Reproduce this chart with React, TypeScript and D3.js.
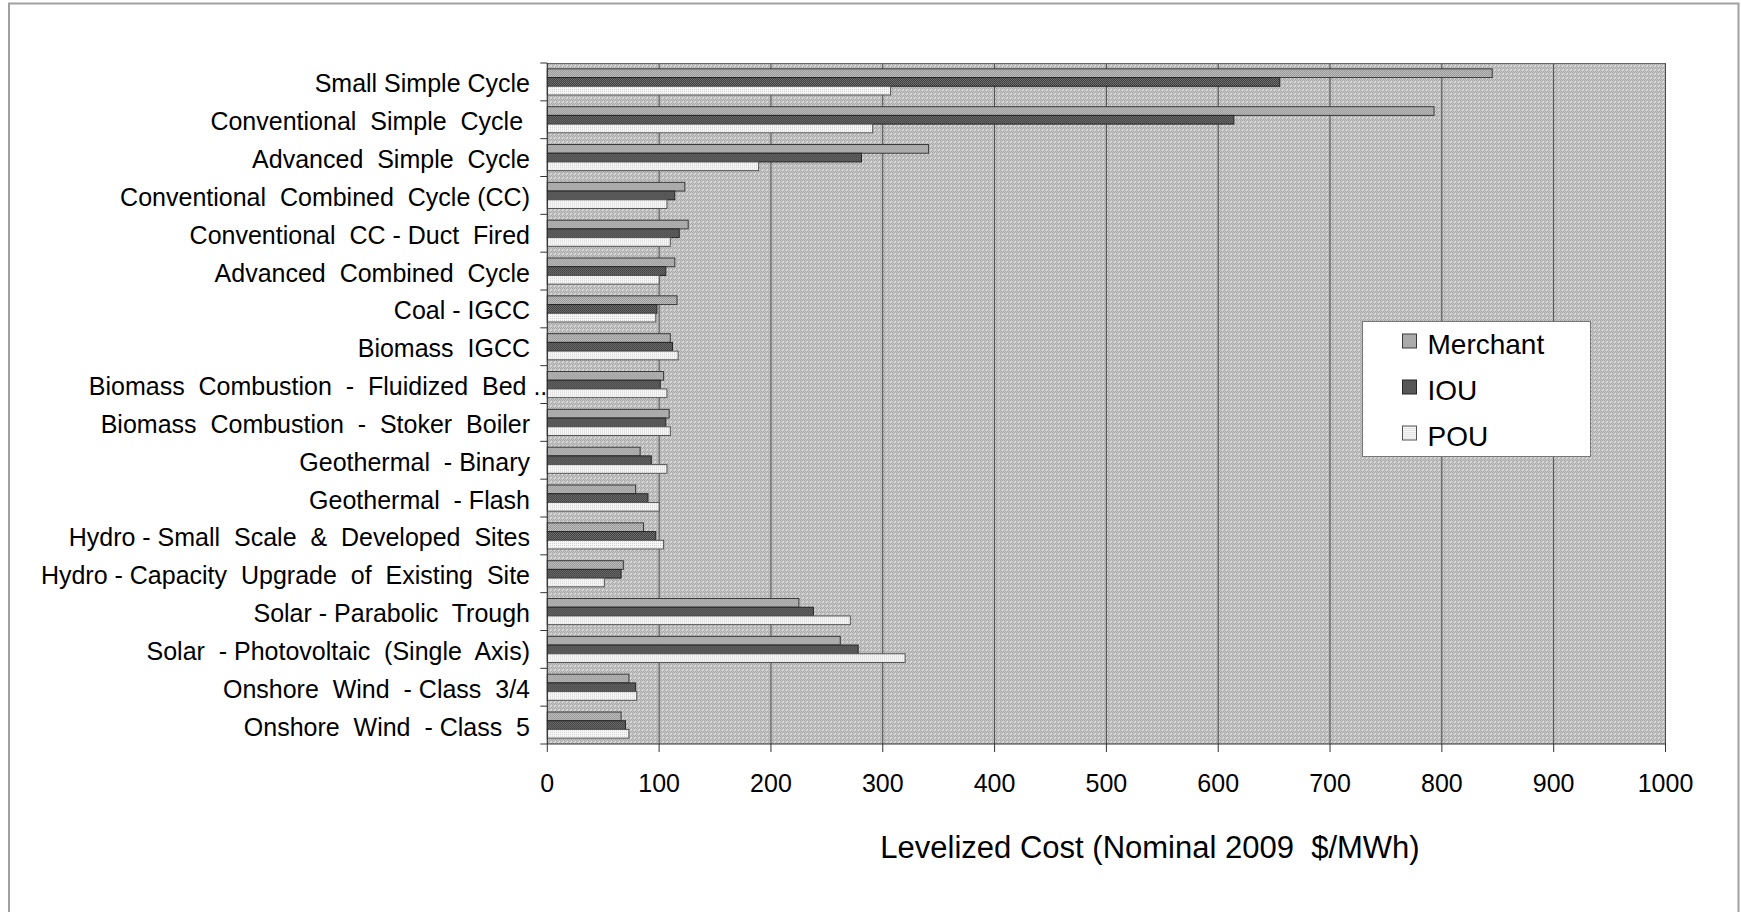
import React from "react";
import * as d3 from "d3";

const categories = [
  "Small Simple Cycle",
  "Conventional  Simple  Cycle ",
  "Advanced  Simple  Cycle",
  "Conventional  Combined  Cycle (CC)",
  "Conventional  CC - Duct  Fired",
  "Advanced  Combined  Cycle",
  "Coal - IGCC",
  "Biomass  IGCC",
  "Biomass  Combustion  -  Fluidized  Bed ..",
  "Biomass  Combustion  -  Stoker  Boiler",
  "Geothermal  - Binary",
  "Geothermal  - Flash",
  "Hydro - Small  Scale  &  Developed  Sites",
  "Hydro - Capacity  Upgrade  of  Existing  Site",
  "Solar - Parabolic  Trough",
  "Solar  - Photovoltaic  (Single  Axis)",
  "Onshore  Wind  - Class  3/4",
  "Onshore  Wind  - Class  5",
];

const seriesNames = ["Merchant", "IOU", "POU"];
const merchant = [845, 793, 341, 123, 126, 114, 116, 110, 104, 109, 83, 79, 86, 68, 225, 262, 73, 66];
const iou = [655, 614, 281, 114, 118, 106, 98, 112, 101, 106, 93, 90, 97, 66, 238, 278, 79, 70];
const pou = [307, 291, 189, 107, 110, 100, 97, 117, 107, 110, 107, 100, 104, 51, 271, 320, 80, 73];
const xTicks = [0, 100, 200, 300, 400, 500, 600, 700, 800, 900, 1000];
const xTitle = "Levelized Cost (Nominal 2009  $/MWh)";

const W = 1741;
const H = 912;
const plot = { left: 547.3, right: 1665.5, top: 63, bottom: 744 };
const FONT = "'Liberation Sans', Arial, sans-serif";

const seriesValues = [merchant, iou, pou];
const patIds = ["patMerchant", "patIOU", "patPOU"];
const strokes = ["#3a3a3a", "#262626", "#555555"];

export default function App() {
  const x = d3.scaleLinear().domain([0, 1000]).range([plot.left, plot.right]);
  const y = d3.scaleBand<string>().domain(categories.map((_, i) => String(i))).range([plot.top, plot.bottom]).padding(0);
  const inner = d3.scaleBand<string>().domain(seriesNames).range([0, y.bandwidth()]).paddingInner(0).paddingOuter(0.672);

  return (
    <svg width={W} height={H} style={{ position: "absolute", left: 0, top: 0, background: "#fff" }} fontFamily={FONT}>
      <defs>
        <pattern id="patBg" width={4} height={4} patternUnits="userSpaceOnUse">
          <rect width={4} height={4} fill="#c6c6c6" />
          <rect x={0} y={0} width={1} height={1} fill="#a6a6a6" />
          <rect x={2} y={0} width={1} height={1} fill="#a9a9a9" />
          <rect x={1} y={1} width={1} height={1} fill="#b0b0b0" />
          <rect x={3} y={1} width={1} height={1} fill="#dcdcdc" />
          <rect x={0} y={2} width={1} height={1} fill="#a9a9a9" />
          <rect x={2} y={2} width={1} height={1} fill="#e2e2e2" />
          <rect x={1} y={3} width={1} height={1} fill="#acacac" />
          <rect x={3} y={3} width={1} height={1} fill="#a6a6a6" />
        </pattern>
        <pattern id="patMerchant" width={2} height={2} patternUnits="userSpaceOnUse">
          <rect width={2} height={2} fill="#bcbcbc" />
          <rect x={0} y={0} width={1} height={1} fill="#989898" />
          <rect x={1} y={1} width={1} height={1} fill="#9c9c9c" />
        </pattern>
        <pattern id="patIOU" width={2} height={2} patternUnits="userSpaceOnUse">
          <rect width={2} height={2} fill="#6e6e6e" />
          <rect x={0} y={0} width={1} height={1} fill="#3e3e3e" />
          <rect x={1} y={1} width={1} height={1} fill="#444444" />
        </pattern>
        <pattern id="patPOU" width={2} height={2} patternUnits="userSpaceOnUse">
          <rect width={2} height={2} fill="#f6f6f6" />
          <rect x={0} y={0} width={1} height={1} fill="#d4d4d4" />
        </pattern>
      </defs>

      {/* outer frame */}
      <rect x={9} y={3.5} width={1729.5} height={920} fill="none" stroke="#a0a0a0" strokeWidth={2} />

      {/* plot background */}
      <rect x={plot.left} y={plot.top} width={plot.right - plot.left} height={plot.bottom - plot.top} fill="url(#patBg)" />

      {/* gridlines */}
      {xTicks.slice(1).map((t) => (
        <line key={"g" + t} x1={x(t)} x2={x(t)} y1={plot.top} y2={plot.bottom} stroke="#4a4a4a" strokeWidth={1} />
      ))}
      <line x1={plot.left} x2={plot.right} y1={plot.top + 0.5} y2={plot.top + 0.5} stroke="#666" strokeWidth={1} />

      {/* bars */}
      {categories.map((c, i) => (
        <g key={"c" + i} transform={`translate(0,${y(String(i))})`}>
          {seriesNames.map((s, k) => (
            <rect
              key={s}
              x={x(0)}
              y={inner(s)}
              width={x(seriesValues[k][i]) - x(0)}
              height={inner.bandwidth()}
              fill={`url(#${patIds[k]})`}
              stroke={strokes[k]}
              strokeWidth={1}
            />
          ))}
        </g>
      ))}

      {/* left axis */}
      <line x1={plot.left} x2={plot.left} y1={plot.top} y2={plot.bottom} stroke="#333" strokeWidth={1.2} />
      {d3.range(categories.length + 1).map((i) => {
        const yy = plot.top + i * y.step();
        return <line key={"yt" + i} x1={plot.left - 7} x2={plot.left} y1={yy} y2={yy} stroke="#333" strokeWidth={1} />;
      })}
      {categories.map((c, i) => {
        const cy = (y(String(i)) as number) + y.bandwidth() / 2;
        const trunc = c.endsWith("..");
        return (
          <text
            key={"yl" + i}
            x={trunc ? plot.left : 530}
            y={cy + 10.5}
            textAnchor="end"
            fontSize={25}
            fill="#000"
            style={{ whiteSpace: "pre" }}
          >
            {c}
          </text>
        );
      })}

      {/* bottom axis */}
      <line x1={plot.left} x2={plot.right} y1={plot.bottom} y2={plot.bottom} stroke="#333" strokeWidth={1.2} />
      {xTicks.map((t) => (
        <g key={"xt" + t}>
          <line x1={x(t)} x2={x(t)} y1={plot.bottom} y2={plot.bottom + 8} stroke="#333" strokeWidth={1} />
          <text x={x(t)} y={792} textAnchor="middle" fontSize={25} fill="#000">
            {t}
          </text>
        </g>
      ))}
      <text x={1150} y={858} textAnchor="middle" fontSize={31} fill="#000" style={{ whiteSpace: "pre" }}>
        {xTitle}
      </text>

      {/* legend */}
      <rect x={1362.5} y={321.5} width={228} height={135} fill="#fff" stroke="#777" strokeWidth={1} />
      {seriesNames.map((s, k) => (
        <g key={"lg" + s} transform={`translate(1402.5,${334 + k * 46})`}>
          <rect x={0} y={0} width={14} height={14} fill={`url(#${patIds[k]})`} stroke={strokes[k]} strokeWidth={1} />
          <text x={25} y={20} fontSize={28} fill="#000">
            {s}
          </text>
        </g>
      ))}
    </svg>
  );
}
